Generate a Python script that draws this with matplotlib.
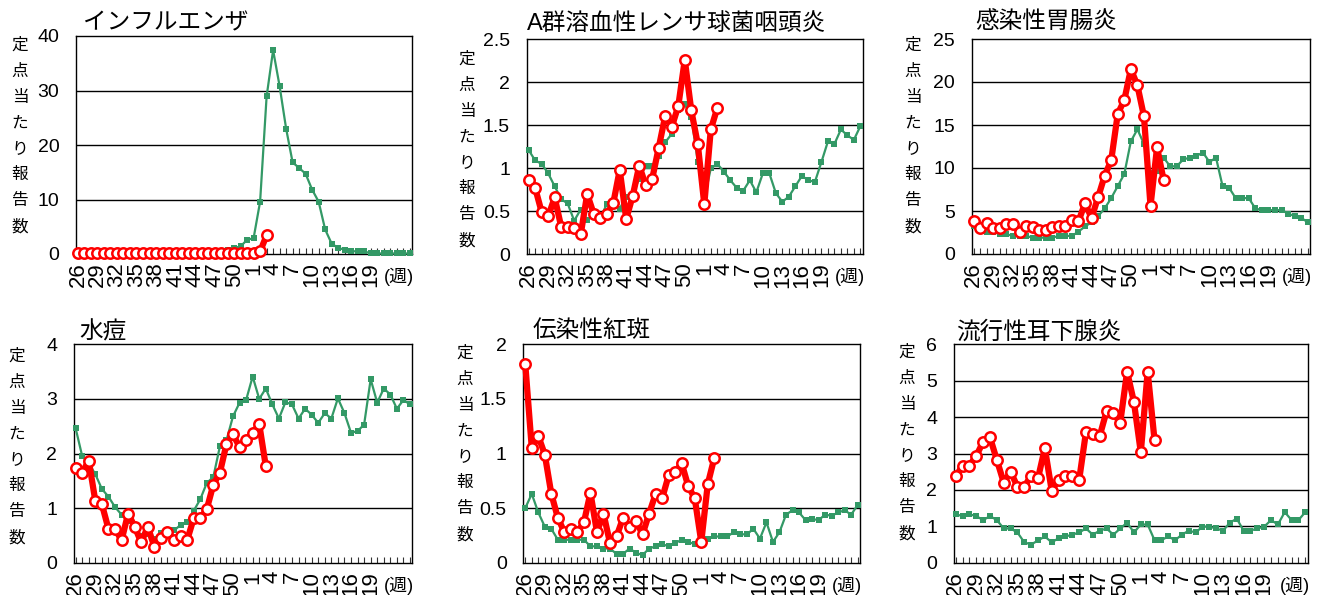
import matplotlib
matplotlib.use("Agg")
import matplotlib.pyplot as plt
from matplotlib.ticker import FixedLocator, FuncFormatter
from matplotlib.transforms import Bbox, TransformedBbox

plt.rcParams['font.family'] = ['Liberation Sans', 'Noto Sans CJK JP']

# ---- data ----
weeks = list(range(26, 53)) + list(range(1, 26))  # 52 weeks
week_tick_labels = [26, 29, 32, 35, 38, 41, 44, 47, 50, 1, 4, 7, 10, 13, 16, 19]

titles = ["インフルエンザ", "A群溶血性レンサ球菌咽頭炎", "感染性胃腸炎",
          "水痘", "伝染性紅斑", "流行性耳下腺炎"]
ymax = [40, 2.5, 25, 4, 2, 6]
ystep = [10, 0.5, 5, 1, 0.5, 1]

flu_prev = [0.2, 0.2, 0.1, 0.1, 0.1, 0.1, 0.1, 0.1, 0.1, 0.1, 0.1, 0.1, 0.1,
            0.1, 0.1, 0.1, 0.1, 0.2, 0.2, 0.2, 0.3, 0.4, 0.6, 0.8, 1.1, 1.4,
            2.6, 2.9, 9.6, 28.9, 37.4, 30.8, 23.0, 16.8, 15.8, 14.7, 11.8,
            9.6, 4.5, 1.9, 1.1, 0.8, 0.5, 0.5, 0.5, 0.1, 0.1, 0.1, 0.1, 0.1,
            0.1, 0.1]
flu_cur = [0.1] * 28 + [0.5, 3.4]

strep_prev = [1.21, 1.09, 1.05, 0.94, 0.79, 0.64, 0.59, 0.39, 0.52, 0.40,
              0.45, 0.42, 0.58, 0.60, 0.53, 0.67, 0.70, 0.88, 1.03, 1.03,
              1.14, 1.30, 1.40, 1.68, 1.74, 1.60, 1.07, 0.64, 1.00, 1.05,
              0.96, 0.86, 0.77, 0.74, 0.86, 0.72, 0.94, 0.94, 0.71, 0.61,
              0.67, 0.79, 0.91, 0.86, 0.84, 1.07, 1.31, 1.28, 1.45, 1.38,
              1.33, 1.49]
strep_cur = [0.86, 0.77, 0.49, 0.44, 0.66, 0.32, 0.32, 0.30, 0.23, 0.70,
             0.47, 0.42, 0.47, 0.59, 0.98, 0.41, 0.68, 1.03, 0.80, 0.88,
             1.24, 1.61, 1.48, 1.72, 2.26, 1.67, 1.28, 0.58, 1.45, 1.70]

gastro_prev = [3.2, 2.8, 2.6, 2.6, 2.3, 2.3, 2.1, 2.1, 2.1, 1.9, 1.9, 1.9,
               1.9, 2.1, 2.1, 2.1, 2.6, 3.2, 3.7, 4.4, 5.3, 6.5, 7.9, 9.3,
               13.1, 14.5, 12.8, 9.4, 9.6, 11.2, 10.2, 10.2, 11.0, 11.2,
               11.4, 11.8, 10.7, 11.2, 7.9, 7.7, 6.5, 6.5, 6.5, 5.3, 5.1,
               5.1, 5.1, 5.1, 4.7, 4.4, 4.2, 3.7]
gastro_cur = [3.8, 3.0, 3.6, 3.0, 3.0, 3.5, 3.5, 2.6, 3.3, 3.1, 2.8, 2.8,
              3.1, 3.3, 3.3, 4.0, 3.8, 5.9, 4.2, 6.6, 9.1, 10.9, 16.3, 17.9,
              21.5, 19.6, 16.0, 5.6, 12.4, 8.6]

vari_prev = [2.46, 1.95, 1.82, 1.62, 1.35, 1.21, 1.02, 0.88, 0.77, 0.66,
             0.49, 0.52, 0.43, 0.55, 0.55, 0.59, 0.69, 0.74, 0.95, 1.16,
             1.46, 1.57, 2.13, 2.24, 2.68, 2.93, 2.98, 3.41, 3.00, 3.19,
             2.90, 2.64, 2.94, 2.90, 2.64, 2.82, 2.71, 2.56, 2.74, 2.64,
             3.01, 2.74, 2.38, 2.41, 2.53, 3.36, 2.93, 3.19, 3.08, 2.82,
             2.98, 2.90]
vari_cur = [1.73, 1.65, 1.87, 1.13, 1.07, 0.62, 0.62, 0.41, 0.90, 0.66,
            0.37, 0.66, 0.29, 0.45, 0.56, 0.41, 0.49, 0.41, 0.81, 0.81,
            0.98, 1.43, 1.65, 2.17, 2.35, 2.12, 2.24, 2.38, 2.54, 1.77]

ery_prev = [0.50, 0.63, 0.46, 0.33, 0.31, 0.21, 0.21, 0.21, 0.21, 0.21,
            0.15, 0.15, 0.13, 0.13, 0.08, 0.08, 0.13, 0.09, 0.07, 0.13,
            0.15, 0.17, 0.15, 0.18, 0.21, 0.19, 0.17, 0.19, 0.22, 0.24,
            0.24, 0.24, 0.28, 0.26, 0.26, 0.31, 0.22, 0.37, 0.19, 0.28,
            0.44, 0.48, 0.46, 0.39, 0.40, 0.39, 0.44, 0.43, 0.46, 0.48,
            0.44, 0.53]
ery_cur = [1.82, 1.05, 1.16, 0.99, 0.63, 0.41, 0.28, 0.31, 0.28, 0.37,
           0.64, 0.28, 0.45, 0.18, 0.24, 0.41, 0.33, 0.38, 0.26, 0.45,
           0.63, 0.59, 0.80, 0.83, 0.91, 0.70, 0.59, 0.19, 0.72, 0.96]

mumps_prev = [1.33, 1.28, 1.33, 1.28, 1.17, 1.28, 1.17, 0.94, 0.94, 0.83,
              0.56, 0.50, 0.61, 0.72, 0.56, 0.67, 0.72, 0.77, 0.83, 0.94,
              0.77, 0.88, 0.94, 0.77, 0.94, 1.10, 0.83, 1.05, 1.05, 0.62,
              0.62, 0.72, 0.62, 0.77, 0.88, 0.83, 0.99, 0.99, 0.94, 0.88,
              1.10, 1.21, 0.88, 0.88, 0.94, 0.99, 1.17, 1.05, 1.39, 1.17,
              1.17, 1.39]
mumps_cur = [2.37, 2.67, 2.67, 2.94, 3.32, 3.44, 2.82, 2.20, 2.50, 2.09,
             2.09, 2.39, 2.32, 3.15, 1.98, 2.28, 2.39, 2.39, 2.27, 3.59,
             3.53, 3.48, 4.16, 4.10, 3.85, 5.25, 4.41, 3.03, 5.25, 3.37]

prev_series = [flu_prev, strep_prev, gastro_prev, vari_prev, ery_prev, mumps_prev]
cur_series = [flu_cur, strep_cur, gastro_cur, vari_cur, ery_cur, mumps_cur]

# ---- layout (pixels) ----
W, H = 1324, 595
axes_px = [(76, 36, 412, 254), (526.7, 39, 862.7, 254.3), (971.7, 39, 1310, 254),
           (73.7, 344.3, 412.3, 562.7), (523.3, 344.3, 860, 562.7),
           (953.7, 344.3, 1307.7, 562.7)]
title_px = [(83, 23), (527, 24), (975, 23), (79, 332), (533, 331), (956, 332)]
ylab_px = [(20, 136), (467, 150), (913, 136), (17, 447), (465, 444), (907, 443)]
clip_bottom = [290, 290, 290, 595, 595, 595]

GREEN = '#339966'
RED = '#FF0000'

fig = plt.figure(figsize=(W / 100, H / 100), dpi=100)
fig.patch.set_facecolor('white')

idx = list(range(len(weeks)))
tick_pos = [weeks.index(w) for w in week_tick_labels]

for i in range(6):
    l, t, r, b = axes_px[i]
    ax = fig.add_axes([l / W, 1 - b / H, (r - l) / W, (b - t) / H])
    ax.set_xlim(-0.3, len(weeks) - 1 + 0.35)
    ax.set_ylim(0, ymax[i])
    yt = []
    v = 0.0
    while v <= ymax[i] + 1e-9:
        yt.append(round(v, 3))
        v += ystep[i]
    ax.yaxis.set_major_locator(FixedLocator(yt))
    ax.yaxis.set_major_formatter(FuncFormatter(lambda x, p: '%g' % x))
    for yv in yt[1:-1]:
        ax.axhline(yv, color='black', lw=1.0, zorder=1)
    ax.tick_params(axis='y', length=0, pad=12, labelsize=14)
    ax.xaxis.set_major_locator(FixedLocator(tick_pos))
    ax.set_xticklabels([str(w) for w in week_tick_labels], rotation=90,
                       fontsize=16, va='top', ha='center')
    ax.xaxis.set_minor_locator(FixedLocator(idx))
    ax.tick_params(axis='x', which='both', direction='in', length=4.5,
                   width=0.8, pad=6, color='#333333')
    for s in ax.spines.values():
        s.set_color('black')
        s.set_linewidth(1.0)

    ax.plot(idx, prev_series[i], color=GREEN, lw=1.6, marker='s',
            markersize=4.5, markeredgewidth=0, zorder=3, clip_on=False)
    ax.plot(idx[:len(cur_series[i])], cur_series[i], color=RED, lw=4.5,
            marker='o', markersize=7.5, markerfacecolor='white',
            markeredgecolor=RED, markeredgewidth=1.8, zorder=4, clip_on=False)

    # clip tick labels to the chart area, as in the reference
    cb = TransformedBbox(Bbox.from_extents(0, 1 - clip_bottom[i] / H, 1, 1),
                         fig.transFigure)
    for tk in ax.xaxis.get_major_ticks():
        tk.label1.set_clip_on(True)
        tk.label1.set_clip_box(cb)

    ax.annotate('(週)', xy=(1, 0), xycoords='axes fraction', xytext=(-13, -23),
                textcoords='offset pixels', ha='center', va='center', fontsize=13)

    tx, ty = title_px[i]
    fig.text(tx / W, 1 - ty / H, titles[i], fontsize=17, ha='left', va='center')
    yx, yy = ylab_px[i]
    fig.text(yx / W, 1 - yy / H, '\n'.join('定点当たり報告数'), fontsize=12,
             ha='center', va='center', linespacing=1.9)

fig.savefig('out.png', dpi=100, facecolor='white')
